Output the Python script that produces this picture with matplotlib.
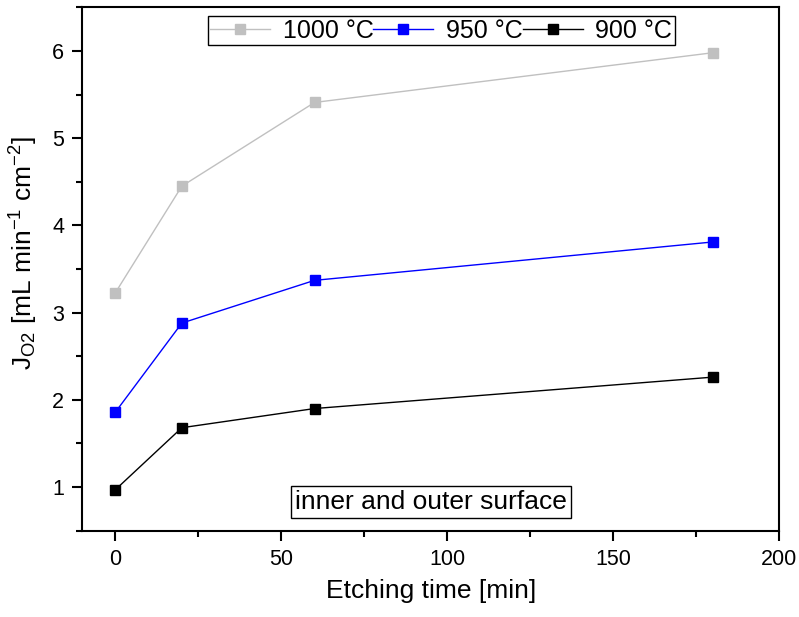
import numpy as np
import matplotlib
matplotlib.use('Agg')
import matplotlib.pyplot as plt
from matplotlib.ticker import MultipleLocator

plt.rcParams['font.family'] = ['Liberation Sans', 'DejaVu Sans']
plt.rcParams['mathtext.default'] = 'regular'

# etching time [min]
etch_time = [0, 20, 60, 180]

# oxygen permeation flux [mL min-1 cm-2]
flux_1000 = [3.23, 4.45, 5.41, 5.98]
flux_950 = [1.86, 2.88, 3.37, 3.81]
flux_900 = [0.97, 1.68, 1.90, 2.26]

series_labels = ['1000 °C', '950 °C', '900 °C']
series_colors = ['#c0c0c0', '#0000ff', '#000000']

fig = plt.figure(figsize=(7.99, 6.17), dpi=100)
ax = fig.add_axes([0.103, 0.140, 0.872, 0.848])

for ys, lab, col in zip([flux_1000, flux_950, flux_900], series_labels, series_colors):
    ax.plot(etch_time, ys, '-s', color=col, lw=1.0, ms=7.5, mec=col, label=lab)

ax.set_xlim(-10, 200)
ax.set_ylim(0.5, 6.5)
ax.xaxis.set_major_locator(MultipleLocator(50))
ax.xaxis.set_minor_locator(MultipleLocator(25))
ax.yaxis.set_major_locator(MultipleLocator(1))
ax.yaxis.set_minor_locator(MultipleLocator(0.5))

for s in ax.spines.values():
    s.set_linewidth(1.5)
ax.tick_params(which='major', direction='out', length=7, width=1.5, labelsize=15.5, pad=6)
ax.tick_params(which='minor', direction='out', length=4, width=1.5)
ax.tick_params(top=False, right=False)

ax.set_xlabel('Etching time [min]', fontsize=19)
ax.set_ylabel('J$_{O2}$ [mL min$^{-1}$ cm$^{-2}$]', fontsize=19)
ax.xaxis.set_label_coords(0.5, -0.092)
ax.yaxis.set_label_coords(-0.06, 0.53)

leg = ax.legend(loc='upper center', bbox_to_anchor=(0.515, 1.0), ncol=3, fontsize=18,
                frameon=True, fancybox=False, edgecolor='black', framealpha=1,
                handlelength=2.4, handletextpad=0.5, columnspacing=0.0,
                borderpad=0.1, borderaxespad=0.35)
leg.get_frame().set_linewidth(1.0)

ax.text(0.5, 0.055, 'inner and outer surface', transform=ax.transAxes,
        ha='center', va='center', fontsize=19,
        bbox=dict(boxstyle='square,pad=0.15', fc='white', ec='black', lw=1.0))

fig.savefig('out.png', dpi=100)
